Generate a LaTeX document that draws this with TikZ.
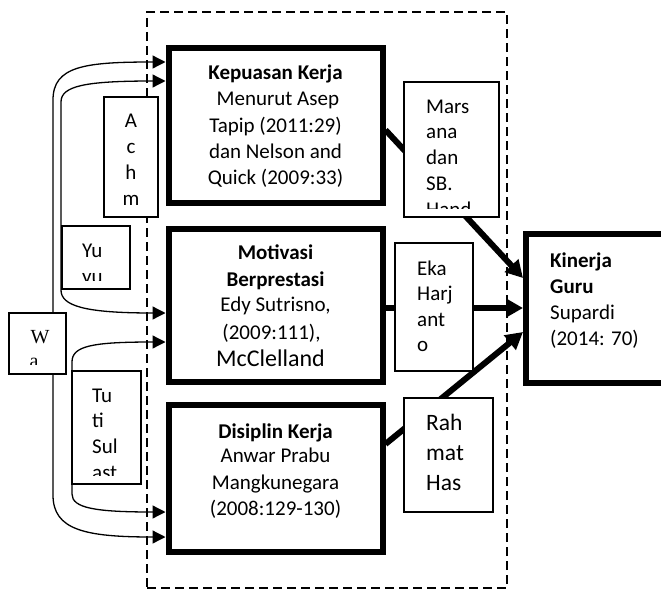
\documentclass[tikz,border=0pt]{standalone}
\usepackage{fontspec}
\setmainfont{Carlito}
\newfontfamily\serifW{Liberation Serif}
\usetikzlibrary{arrows.meta,calc}
\begin{document}
\begin{tikzpicture}[x=1pt,y=-1pt,
  bigbox/.style={draw, line width=6pt, fill=white, inner sep=0pt},
  smallbox/.style={draw, line width=1.3pt, fill=white, inner sep=0pt},
  frame/.style={draw, line width=2pt, dash pattern=on 9pt off 5pt, inner sep=0pt},
  thinarrow/.style={line width=1.3pt, -{Triangle[length=13pt,width=13pt]}},
  thinbi/.style={line width=1.3pt, {Triangle[length=13pt,width=13pt]}-{Triangle[length=13pt,width=13pt]}},
  thickarrow/.style={line width=6pt, -{Triangle[length=17pt,width=18pt]}},
  txt/.style={inner sep=0pt, font=\fontsize{21}{26}\selectfont},
  txtb/.style={inner sep=0pt, font=\fontsize{21}{26}\selectfont\bfseries},
]
\clip (0,0) rectangle (661,589);
% dashed frame
\node[frame, minimum width=360pt, minimum height=576pt] (frm) at (327,300) {};
% main boxes (empty, text placed line by line below)
\node[bigbox, minimum width=214pt, minimum height=155pt] (kep) at (275.5,125) {};
\node[bigbox, minimum width=214pt, minimum height=153pt] (mot) at (275.5,305) {};
\node[bigbox, minimum width=214pt, minimum height=146.5pt] (dis) at (275.5,478.25) {};
\node[bigbox, minimum width=200pt, minimum height=149pt] (kin) at (626,308.5) {};
% thin connectors
\coordinate (wx) at (53,0);
\node[smallbox, minimum width=57pt, minimum height=61pt] (W) at (37.5,343.5) {};
\draw[thinarrow] (wx |- W.north) -- (53,100) .. controls (53,66) and (85,62) .. (kep.west |- 0,62);
\draw[thinarrow] (wx |- W.south) -- (53,495) .. controls (53,530) and (85,537) .. (dis.west |- 0,537);
\draw[thinbi] (kep.west |- 0,81) .. controls (85,81) and (61,86) .. (61,102) -- (61,290) .. controls (61,306) and (85,313) .. (mot.west |- 0,313);
\draw[thinbi] (mot.west |- 0,342) .. controls (92,342) and (72,346) .. (72,362) -- (72,494) .. controls (72,508) and (95,512) .. (dis.west |- 0,512);
% thick arrows
\draw[thickarrow] (kep.east |- 0,130) -- (kin.west |- 0,278);
\draw[thickarrow] (mot.east |- 0,308) -- (kin.west |- 0,308);
\draw[thickarrow] (dis.east |- 0,444) -- (kin.west |- 0,332);
% small boxes
\node[smallbox, minimum width=57pt, minimum height=61pt] (W2) at (37.5,343.5) {};
\node[smallbox, minimum width=54pt, minimum height=120pt] (achm) at (131,157) {};
\node[smallbox, minimum width=68pt, minimum height=63pt] (yuyu) at (96,257.5) {};
\node[smallbox, minimum width=69pt, minimum height=113pt] (tuti) at (106.5,427.5) {};
\node[smallbox, minimum width=95pt, minimum height=135pt] (mars) at (451.5,149.5) {};
\node[smallbox, minimum width=78pt, minimum height=128pt] (eka) at (434,307) {};
\node[smallbox, minimum width=89pt, minimum height=114pt] (rahm) at (448.5,455) {};
% main box texts
\node[txtb, anchor=base] (kep0) at (275.5,79.3) {Kepuasan Kerja};
\node[txt, anchor=base] (kep1) at (275.5,105.5) {\ Menurut Asep};
\node[txt, anchor=base] (kep2) at (275.5,132) {Tapip (2011:29)};
\node[txt, anchor=base] (kep3) at (275.5,158.3) {dan Nelson and};
\node[txt, anchor=base] (kep4) at (275.5,184.3) {Quick (2009:33)};
\node[txtb, anchor=base] (mot0) at (275.5,259.3) {Motivasi};
\node[txtb, anchor=base] (mot1) at (275.5,286) {Berprestasi};
\node[txt, anchor=base] (mot2) at (275.5,311.7) {Edy Sutrisno,};
\node[txt, anchor=base] (mot3) at (271.5,339.3) {(2009:111),};
\node[inner sep=0pt, font=\fontsize{24}{29}\selectfont, anchor=base] (mot4) at (270.5,366) {McClelland};
\node[txtb, anchor=base] (dis0) at (275.5,438.3) {Disiplin Kerja};
\node[txt, anchor=base] (dis1) at (275.5,462.7) {Anwar Prabu};
\node[txt, anchor=base] (dis2) at (275.5,489.3) {Mangkunegara};
\node[txt, anchor=base] (dis3) at (275.5,515) {(2008:129-130)};
\node[txtb, anchor=base west] (kin0) at (550,267.3) {Kinerja};
\node[txtb, anchor=base west] (kin1) at (550,293.3) {Guru};
\node[txt, anchor=base west] (kin2) at (550,319.3) {Supardi};
\node[txt, anchor=base west] (kin3) at (550,345) {(2014: 70)};
% small box texts, clipped
\begin{scope}
\clip (achm.north west) rectangle ([yshift=9pt]achm.south east);
\foreach \t [count=\i from 0] in {A,c,h,m}
  \node[txt, anchor=base] (achm\i) at (131,{127+26*\i}) {\t};
\end{scope}
\begin{scope}
\clip (yuyu.north west) rectangle ([yshift=9pt]yuyu.south east);
\foreach \t [count=\i from 0] in {Yu,yu}
  \node[txt, anchor=base west] (yuyu\i) at (82,{257.3+26*\i}) {\t};
\end{scope}
\begin{scope}
\clip (W2.north west) rectangle ([yshift=10pt]W2.south east);
\node[inner sep=0pt, font=\fontsize{20}{24}\serifW, anchor=base] (w0) at (40,343) {W};
\node[inner sep=0pt, font=\fontsize{20}{24}\serifW, anchor=base] (w1) at (34,367) {a};
\end{scope}
\begin{scope}
\clip (tuti.north west) rectangle ([yshift=9pt]tuti.south east);
\foreach \t [count=\i from 0] in {Tu,ti,Sul,ast}
  \node[txt, anchor=base west] (tuti\i) at (92,{402+25.7*\i}) {\t};
\end{scope}
\begin{scope}
\clip (mars.north west) rectangle ([yshift=9pt]mars.south east);
\foreach \t [count=\i from 0] in {Mars,ana,dan,SB.,Hand}
  \node[txt, anchor=base west] (mars\i) at (426,{113+25.8*\i}) {\t};
\end{scope}
\begin{scope}
\clip (eka.north west) rectangle ([yshift=9pt]eka.south east);
\foreach \t [count=\i from 0] in {Eka,Harj,ant,o}
  \node[txt, anchor=base west] (eka\i) at (417,{275+25.6*\i}) {\t};
\end{scope}
\begin{scope}
\clip (rahm.north west) rectangle ([yshift=9pt]rahm.south east);
\foreach \t [count=\i from 0] in {Rah,mat,Has}
  \node[inner sep=0pt, font=\fontsize{23.5}{30}\selectfont, anchor=base west] (rahm\i) at (426,{430+30*\i}) {\t};
\end{scope}
\end{tikzpicture}
\end{document}
